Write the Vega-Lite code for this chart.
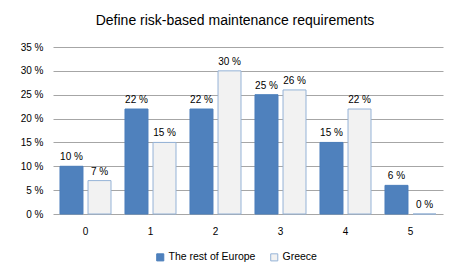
{
  "$schema": "https://vega.github.io/schema/vega-lite/v6.json",
  "width": 390,
  "height": 167,
  "autosize": {"type": "none"},
  "padding": {"left": 53, "top": 47, "right": 13, "bottom": 62},
  "background": "white",
  "title": {"text": "Define risk-based maintenance requirements", "fontSize": 14, "font": "Liberation Sans", "fontWeight": "normal", "color": "#000000", "dx": -13, "offset": 14},
  "config": {
    "view": {"stroke": null},
    "font": "Liberation Sans",
    "axis": {"labelFont": "Liberation Sans", "labelFontSize": 10, "labelColor": "#000000", "domain": false, "ticks": false, "title": null}
  },
  "data": {
    "values": [
      {"cat": "0", "series": "The rest of Europe", "value": 10},
      {"cat": "0", "series": "Greece", "value": 7},
      {"cat": "1", "series": "The rest of Europe", "value": 22},
      {"cat": "1", "series": "Greece", "value": 15},
      {"cat": "2", "series": "The rest of Europe", "value": 22},
      {"cat": "2", "series": "Greece", "value": 30},
      {"cat": "3", "series": "The rest of Europe", "value": 25},
      {"cat": "3", "series": "Greece", "value": 26},
      {"cat": "4", "series": "The rest of Europe", "value": 15},
      {"cat": "4", "series": "Greece", "value": 22},
      {"cat": "5", "series": "The rest of Europe", "value": 6},
      {"cat": "5", "series": "Greece", "value": 0}
    ]
  },
  "encoding": {
    "x": {"field": "cat", "type": "ordinal", "scale": {"paddingInner": 0.215, "paddingOuter": 0.1075}, "axis": {"labelAngle": 0, "labelPadding": 12, "grid": false}},
    "xOffset": {"field": "series", "type": "nominal", "sort": ["The rest of Europe", "Greece"], "scale": {"paddingInner": 0.18, "paddingOuter": 0}},
    "y": {"field": "value", "type": "quantitative", "scale": {"domain": [0, 35], "nice": false}, "axis": {"values": [0, 5, 10, 15, 20, 25, 30, 35], "labelExpr": "datum.value + ' %'", "labelPadding": 10, "gridColor": "#A6A6A6", "gridWidth": 1}}
  },
  "layer": [
    {
      "mark": {"type": "bar", "strokeWidth": 1},
      "encoding": {
        "fill": {"field": "series", "type": "nominal", "sort": ["The rest of Europe", "Greece"], "scale": {"domain": ["The rest of Europe", "Greece"], "range": ["#4F81BD", "#F2F2F2"]}, "legend": {"title": null, "orient": "none", "legendX": 102, "legendY": 205, "direction": "horizontal", "symbolType": "square", "symbolSize": 50, "labelFontSize": 10.5, "labelFont": "Liberation Sans", "labelColor": "#000000", "columnPadding": 12, "symbolStrokeWidth": 1, "labelOffset": 3}},
        "stroke": {"field": "series", "type": "nominal", "sort": ["The rest of Europe", "Greece"], "scale": {"domain": ["The rest of Europe", "Greece"], "range": ["#4A7EBB", "#95B3D7"]}, "legend": {"title": null, "orient": "none", "legendX": 102, "legendY": 205, "direction": "horizontal", "symbolType": "square", "symbolSize": 50, "labelFontSize": 10.5, "labelFont": "Liberation Sans", "labelColor": "#000000", "columnPadding": 12, "symbolStrokeWidth": 1, "labelOffset": 3}}
      }
    },
    {
      "mark": {"type": "text", "dy": -9, "fontSize": 10, "font": "Liberation Sans", "color": "#000000", "text": {"expr": "datum.value + ' %'"}},
      "encoding": {}
    }
  ]
}
